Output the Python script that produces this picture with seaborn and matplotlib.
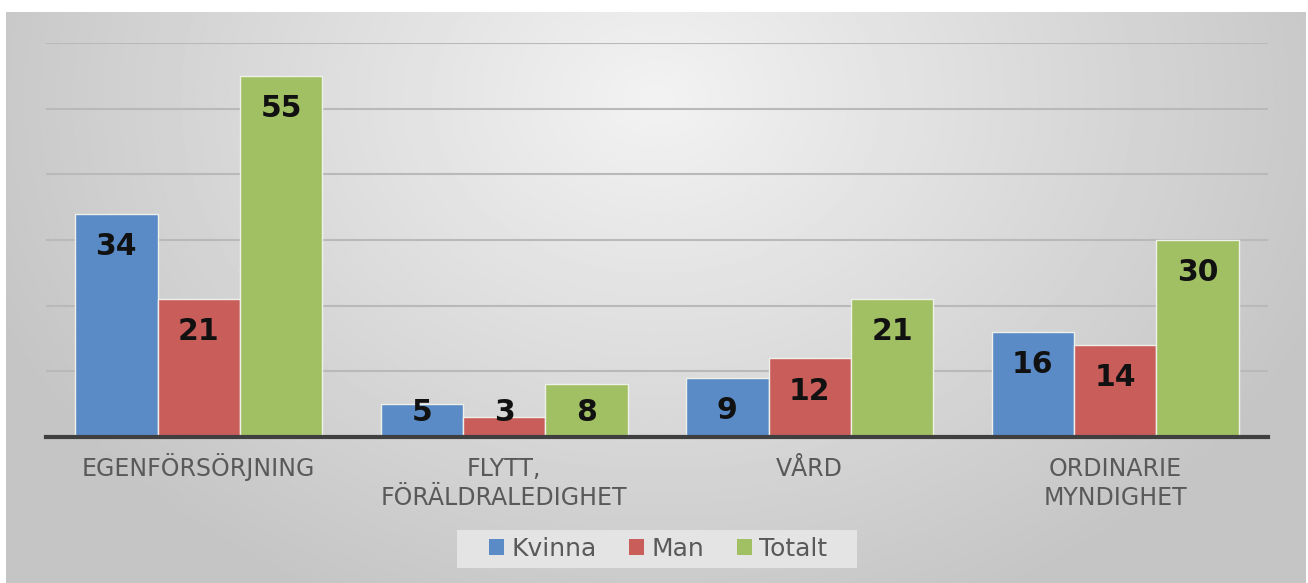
import numpy as np
import pandas as pd
import matplotlib
matplotlib.use("Agg")
import matplotlib.pyplot as plt
import matplotlib.transforms as mtransforms
from matplotlib.patches import Rectangle
import seaborn as sns

categories = ["EGENFÖRSÖRJNING", "FLYTT,\nFÖRÄLDRALEDIGHET", "VÅRD", "ORDINARIE\nMYNDIGHET"]
series = ["Kvinna", "Man", "Totalt"]
kvinna = [34, 5, 9, 16]
man = [21, 3, 12, 14]
totalt = [55, 8, 21, 30]
colors = ["#5b8bc6", "#c95d5a", "#a1c063"]

sns.set_theme(style="white")
plt.rcParams["font.family"] = ["DejaVu Sans"]

df = pd.DataFrame({
    "kategori": categories * 3,
    "serie": [s for s in series for _ in categories],
    "värde": kvinna + man + totalt,
})

W, H = 1308, 583
fig = plt.figure(figsize=(W / 100, H / 100), dpi=100, facecolor="white")

# gradient background panel
bg = fig.add_axes([6 / W, 0, 1 - 8 / W, 1 - 12 / H])
bg.set_axis_off()
h, w = 300, 700
yy, xx = np.mgrid[0:h, 0:w]
cx, cy = w * 0.5, h * 0.15
r = np.sqrt(((xx - cx) / (w * 0.62)) ** 2 + ((yy - cy) / (h * 1.1)) ** 2)
grad = np.clip(0.95 - 0.2 * r, 0.77, 0.95)
bg.imshow(grad, cmap="gray", vmin=0, vmax=1, aspect="auto", interpolation="bilinear")

# legend backdrop
fig.patches.append(Rectangle((457 / W, 1 - 568 / H), 400 / W, 38 / H, transform=fig.transFigure,
                             facecolor="#e4e4e4", edgecolor="none", zorder=1))

ax = fig.add_axes([46 / W, 1 - 437 / H, (1268 - 46) / W, (437 - 43) / H])
ax.patch.set_alpha(0)
sns.barplot(data=df, x="kategori", y="värde", hue="serie", palette=colors,
            saturation=1, width=0.81, edgecolor="#eef0ea", linewidth=1.0, ax=ax,
            legend=True)
ax.set_ylim(0, 60)
ax.set_xlim(-0.5, 3.5)
ax.set_yticks([10, 20, 30, 40, 50, 60])
ax.yaxis.grid(True, color="#b9b9b9", linewidth=1.5)
ax.set_axisbelow(True)
ax.tick_params(axis="y", left=False, labelleft=False)
ax.tick_params(axis="x", bottom=False, labelbottom=False)
ax.set_xlabel("")
ax.set_ylabel("")
for s in ["top", "right", "left"]:
    ax.spines[s].set_visible(False)
ax.spines["bottom"].set_color("#3f3f3f")
ax.spines["bottom"].set_linewidth(3)

# category labels, line by line (baselines at fixed pixel rows)
trans = mtransforms.blended_transform_factory(ax.transData, fig.transFigure)
line_baselines = [476, 505]
for i, cat in enumerate(categories):
    for j, line in enumerate(cat.split("\n")):
        ax.text(i, 1 - line_baselines[j] / H, line, transform=trans, ha="center",
                va="baseline", fontsize=17, color="#595959")

vals = [kvinna, man, totalt]
for cont, v in zip(ax.containers, vals):
    for bar, val in zip(cont, v):
        x = bar.get_x() + bar.get_width() / 2
        y = max(val - 5.0, 3.8)
        ax.text(x, y, str(val), ha="center", va="center", fontsize=21.5,
                fontweight="bold", color="#111111")

handles, labels = ax.get_legend_handles_labels()
ax.legend_.remove()
leg = fig.legend(handles, labels, ncol=3, loc="center", bbox_to_anchor=(658 / W, 1 - 549 / H),
                 frameon=False, fontsize=18, handlelength=0.6, handleheight=0.6,
                 handletextpad=0.3, columnspacing=1.3, borderpad=0.25, borderaxespad=0)
for t in leg.get_texts():
    t.set_color("#595959")
for p in leg.get_patches():
    p.set_edgecolor("none")

fig.savefig("out.png", dpi=100, facecolor="white")
